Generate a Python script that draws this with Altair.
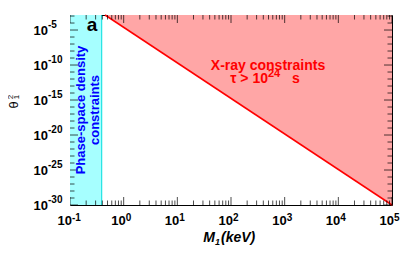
import altair as alt
import pandas as pd

W, H = 322, 190
FONT = "Liberation Sans"

# axis domains
x_domain = [0.1, 1e5]
y_domain = [1e-30, 1.4e-3]

# tick label exponents
x_exps = [-1, 0, 1, 2, 3, 4, 5]
y_exps = [-30, -25, -20, -15, -10, -5]
x_minor_mult = [2, 3, 4, 5, 6, 7, 8, 9]
y_minor_exps = [-29, -28, -27, -26, -24, -23, -22, -21, -19, -18, -17, -16,
                -14, -13, -12, -11, -9, -8, -7, -6, -4, -3]

# phase-space density constraint (M range)
phase_M = [0.1, 0.39]
# X-ray constraint boundary line (endpoints)
xray_M = [0.45, 1e5]
xray_T = [1.4e-3, 1e-30]

xs = alt.Scale(type="log", domain=x_domain, nice=False)
ys = alt.Scale(type="log", domain=y_domain, nice=False)

df_phase = pd.DataFrame({"M0": [phase_M[0]], "M1": [phase_M[1]]})
df_xray = pd.DataFrame({"M": xray_M, "T": xray_T,
                        "top": [y_domain[1]] * len(xray_M)})

x_major = pd.DataFrame({"M": [10.0 ** e for e in x_exps],
                        "lab": [str(e) for e in x_exps]})
x_minor = pd.DataFrame({"M": [m * 10.0 ** e for e in x_exps[:-1] for m in x_minor_mult]})
y_major = pd.DataFrame({"T": [10.0 ** e for e in y_exps],
                        "lab": [str(e) for e in y_exps]})
y_minor = pd.DataFrame({"T": [10.0 ** e for e in y_minor_exps]})

X = lambda f: alt.X(f, type="quantitative", scale=xs, axis=None)
Y = lambda f: alt.Y(f, type="quantitative", scale=ys, axis=None)

phase = alt.Chart(df_phase).mark_rect(color="#a6ffff").encode(
    x=X("M0"), x2="M1", y=alt.value(0), y2=alt.value(H))
phase_edge = alt.Chart(df_phase).mark_rule(color="#00dede", strokeWidth=1).encode(
    x=X("M1"), y=alt.value(0), y2=alt.value(H))
xray_area = alt.Chart(df_xray).mark_area(color="#ffa6a6", opacity=1).encode(
    x=X("M"), y=Y("T"), y2="top:Q")
xray_line = alt.Chart(df_xray).mark_line(color="#ff0000", strokeWidth=1.5).encode(
    x=X("M"), y=Y("T"))

def xticks(df, size):
    layers = []
    for yy in (0, H):
        layers.append(alt.Chart(df).mark_tick(color="black", thickness=1, size=size,
                                              clip=True, orient="vertical").encode(
            x=X("M"), y=alt.value(yy)))
    return layers

def yticks(df, size):
    layers = []
    for xx in (0, W):
        layers.append(alt.Chart(df).mark_tick(color="black", thickness=1, size=size,
                                              clip=True, orient="horizontal").encode(
            y=Y("T"), x=alt.value(xx)))
    return layers

ticks = xticks(x_major, 16) + xticks(x_minor, 9) + yticks(y_major, 16) + yticks(y_minor, 9)

# tick labels
xlab_base = alt.Chart(x_major).mark_text(font=FONT, fontWeight="bold", fontSize=13,
                                         align="right", baseline="alphabetic", dx=2,
                                         color="black").encode(
    x=X("M"), y=alt.value(210), text=alt.value("10"))
xlab_exp = alt.Chart(x_major).mark_text(font=FONT, fontWeight="bold", fontSize=10,
                                        align="left", baseline="alphabetic", dx=2,
                                        color="black").encode(
    x=X("M"), y=alt.value(206), text="lab:N")
ylab_base = alt.Chart(y_major).mark_text(font=FONT, fontWeight="bold", fontSize=13,
                                         align="right", baseline="alphabetic", dy=5,
                                         color="black").encode(
    y=Y("T"), x=alt.value(-22), text=alt.value("10"))
ylab_exp = alt.Chart(y_major).mark_text(font=FONT, fontWeight="bold", fontSize=10,
                                        align="left", baseline="alphabetic", dy=-2,
                                        color="black").encode(
    y=Y("T"), x=alt.value(-22), text="lab:N")

def label(txt, x, y, size, color="black", align="center", baseline="alphabetic",
          angle=0, style="normal", weight="bold"):
    return alt.Chart(df_phase).mark_text(font=FONT, fontWeight=weight, fontSize=size,
                                         color=color, align=align, baseline=baseline,
                                         angle=angle, fontStyle=style).encode(
        x=alt.value(x), y=alt.value(y), text=alt.value(txt))

texts = [
    label("a", 22, 16, 19),
    label("X-ray constraints", 198, 55, 14, color="#ff0000"),
    label("τ > 10", 198, 68, 14, color="#ff0000", align="right"),
    label("24", 198, 62, 11, color="#ff0000", align="left"),
    label("s", 222, 68, 14, color="#ff0000", align="left"),
    label("Phase-space density", 11, 95, 13, color="#0000ff", baseline="middle", angle=270),
    label("constraints", 25, 95, 13, color="#0000ff", baseline="middle", angle=270),
    # axis titles
    label("M", 145, 227, 14, align="right", style="italic"),
    label("1", 145, 230, 9, align="left", style="italic"),
    label("(keV)", 151, 227, 14, align="left", style="italic"),
    label("θ", -56, 90, 13, baseline="middle", angle=270, weight="normal"),
    label("2", -59, 82, 8, baseline="middle", angle=270, weight="normal"),
    label("1", -53, 82, 8, baseline="middle", angle=270, weight="normal"),
]

chart = alt.layer(phase, xray_area, phase_edge, xray_line, *ticks,
                  xlab_base, xlab_exp, ylab_base, ylab_exp, *texts).properties(
    width=W, height=H,
    autosize=alt.AutoSizeParams(type="none"),
    padding={"left": 62, "top": 7, "right": 15, "bottom": 40},
).configure_view(stroke="black", strokeWidth=1)

chart.save("out.html", embed_options={"renderer": "svg", "actions": False})
